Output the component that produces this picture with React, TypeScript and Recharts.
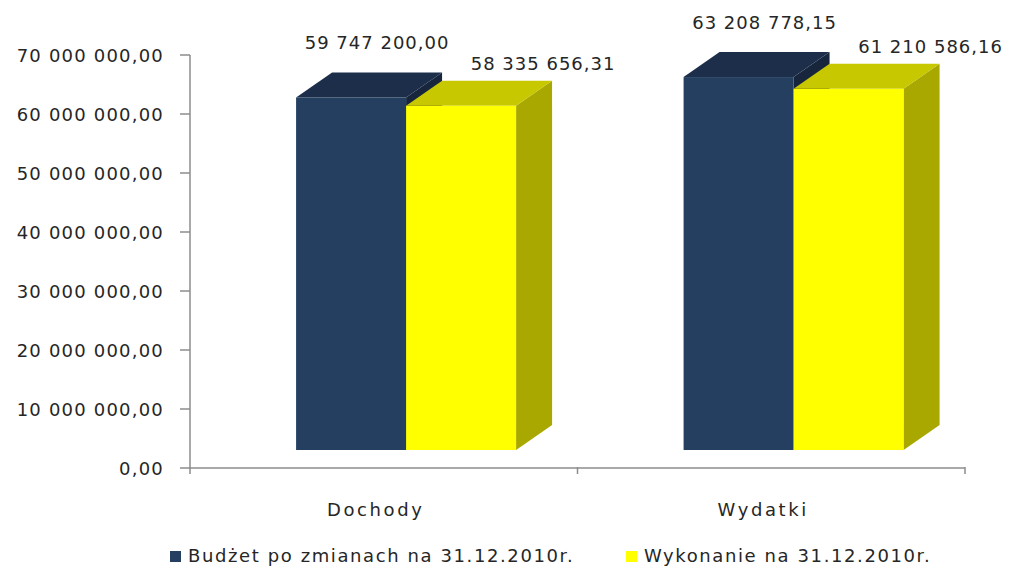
import React from 'react';
import { BarChart, Bar, XAxis, YAxis, Legend, LabelList } from 'recharts';

const categories = ['Dochody', 'Wydatki'];
const budget = [59747200.0, 63208778.15];
const execution = [58335656.31, 61210586.16];
const yTicks = [0, 10000000, 20000000, 30000000, 40000000, 50000000, 60000000, 70000000];
const seriesNames = ['Budżet po zmianach na 31.12.2010r.', 'Wykonanie na 31.12.2010r.'];

const data = categories.map((c, i) => ({ name: c, budget: budget[i], execution: execution[i] }));

const W = 1012;
const H = 568;
const MARGIN = { top: 55, right: 47, bottom: 0, left: 0 };
const Y_W = 190;
const PLOT_W = W - Y_W - MARGIN.right;
const BAND = PLOT_W / categories.length;
const SHIFT_X = 22;
const LIFT = 18;
const DX = 36;
const DY = 25;
const FONT = '"DejaVu Sans", sans-serif';
const TEXT = '#262626';
const AXIS = '#8c8c8c';

const fmt = (v: number) => {
  const fixed = v.toFixed(2);
  const [int, dec] = fixed.split('.');
  const grouped = int.replace(/\B(?=(\d{3})+(?!\d))/g, ' ');
  return `${grouped},${dec}`;
};

const make3D = (front: string, top: string, side: string) => (props: any) => {
  const { x, y, width, height } = props;
  const fx = x + SHIFT_X;
  const fy = y - LIFT;
  const w = width;
  const h = height;
  return (
    <g>
      <polygon
        points={`${fx + w},${fy} ${fx + w + DX},${fy - DY} ${fx + w + DX},${fy + h - DY} ${fx + w},${fy + h}`}
        fill={side}
      />
      <polygon
        points={`${fx},${fy} ${fx + DX},${fy - DY} ${fx + w + DX},${fy - DY} ${fx + w},${fy}`}
        fill={top}
      />
      <rect x={fx} y={fy} width={w} height={h} fill={front} />
    </g>
  );
};

const makeLabel = (offX: number, offY: number) => (props: any) => {
  const { x, y, width, value } = props;
  const cx = x + SHIFT_X + width / 2 + offX;
  const cy = y - LIFT - DY - offY;
  return (
    <text
      x={cx}
      y={cy}
      textAnchor="middle"
      dominantBaseline="central"
      fontFamily={FONT}
      fontSize={18}
      letterSpacing={1}
      fill={TEXT}
    >
      {fmt(Number(value))}
    </text>
  );
};

const YTick = (props: any) => {
  const { x, y, payload } = props;
  return (
    <text
      x={x}
      y={y}
      textAnchor="end"
      dominantBaseline="central"
      fontFamily={FONT}
      fontSize={18}
      letterSpacing={1.2}
      fill={TEXT}
    >
      {fmt(Number(payload.value))}
    </text>
  );
};

const XTick = (props: any) => {
  const { x, y, payload, index } = props;
  const axisY = y;
  return (
    <g>
      <line x1={x - BAND / 2} y1={axisY - 8} x2={x - BAND / 2} y2={axisY - 1} stroke={AXIS} strokeWidth={1.5} />
      {index === categories.length - 1 && (
        <line x1={x + BAND / 2} y1={axisY - 8} x2={x + BAND / 2} y2={axisY - 1} stroke={AXIS} strokeWidth={1.5} />
      )}
      <text
        x={x - 8}
        y={axisY + 34}
        textAnchor="middle"
        dominantBaseline="central"
        fontFamily={FONT}
        fontSize={18}
        letterSpacing={2.6}
        fill={TEXT}
      >
        {payload.value}
      </text>
    </g>
  );
};

const legendColors = ['#243F60', '#FFFF00'];
const legendX = [170, 626];

const renderLegend = () => (
  <div style={{ position: 'relative', width: W, height: 30 }}>
    {seriesNames.map((n, i) => (
      <div
        key={n}
        style={{
          position: 'absolute',
          left: legendX[i],
          top: 8,
          display: 'flex',
          alignItems: 'center',
          fontFamily: FONT,
          fontSize: 18,
          letterSpacing: 1.6,
          color: TEXT,
          whiteSpace: 'nowrap',
          lineHeight: '20px',
        }}
      >
        <span style={{ display: 'inline-block', width: 11, height: 11, background: legendColors[i], marginRight: 7 }} />
        {n}
      </div>
    ))}
  </div>
);

export default function App() {
  return (
    <div style={{ position: 'absolute', left: 0, top: 0, width: W, height: H, background: '#fff', overflow: 'hidden' }}>
      <BarChart width={W} height={H} data={data} margin={MARGIN} barCategoryGap="21.7%" barGap={0}>
        <XAxis
          dataKey="name"
          height={70}
          tick={<XTick />}
          tickLine={false}
          axisLine={{ stroke: AXIS, strokeWidth: 1.5 }}
          tickSize={7}
          tickMargin={0}
          interval={0}
        />
        <YAxis
          width={Y_W}
          domain={[0, 70000000]}
          ticks={yTicks}
          interval={0}
          tick={<YTick />}
          tickSize={10}
          tickMargin={16}
          axisLine={{ stroke: AXIS, strokeWidth: 1.5 }}
          tickLine={{ stroke: AXIS, strokeWidth: 1.5 }}
        />
        <Legend verticalAlign="bottom" height={30} content={renderLegend} />
        <Bar dataKey="budget" name={seriesNames[0]} isAnimationActive={false} shape={make3D('#243F60', '#1C2E4A', '#17263D')}>
          <LabelList dataKey="budget" content={makeLabel(26, 30)} />
        </Bar>
        <Bar dataKey="execution" name={seriesNames[1]} isAnimationActive={false} shape={make3D('#FFFF00', '#C8C800', '#A8A800')}>
          <LabelList dataKey="execution" content={makeLabel(82, 17)} />
        </Bar>
      </BarChart>
    </div>
  );
}
